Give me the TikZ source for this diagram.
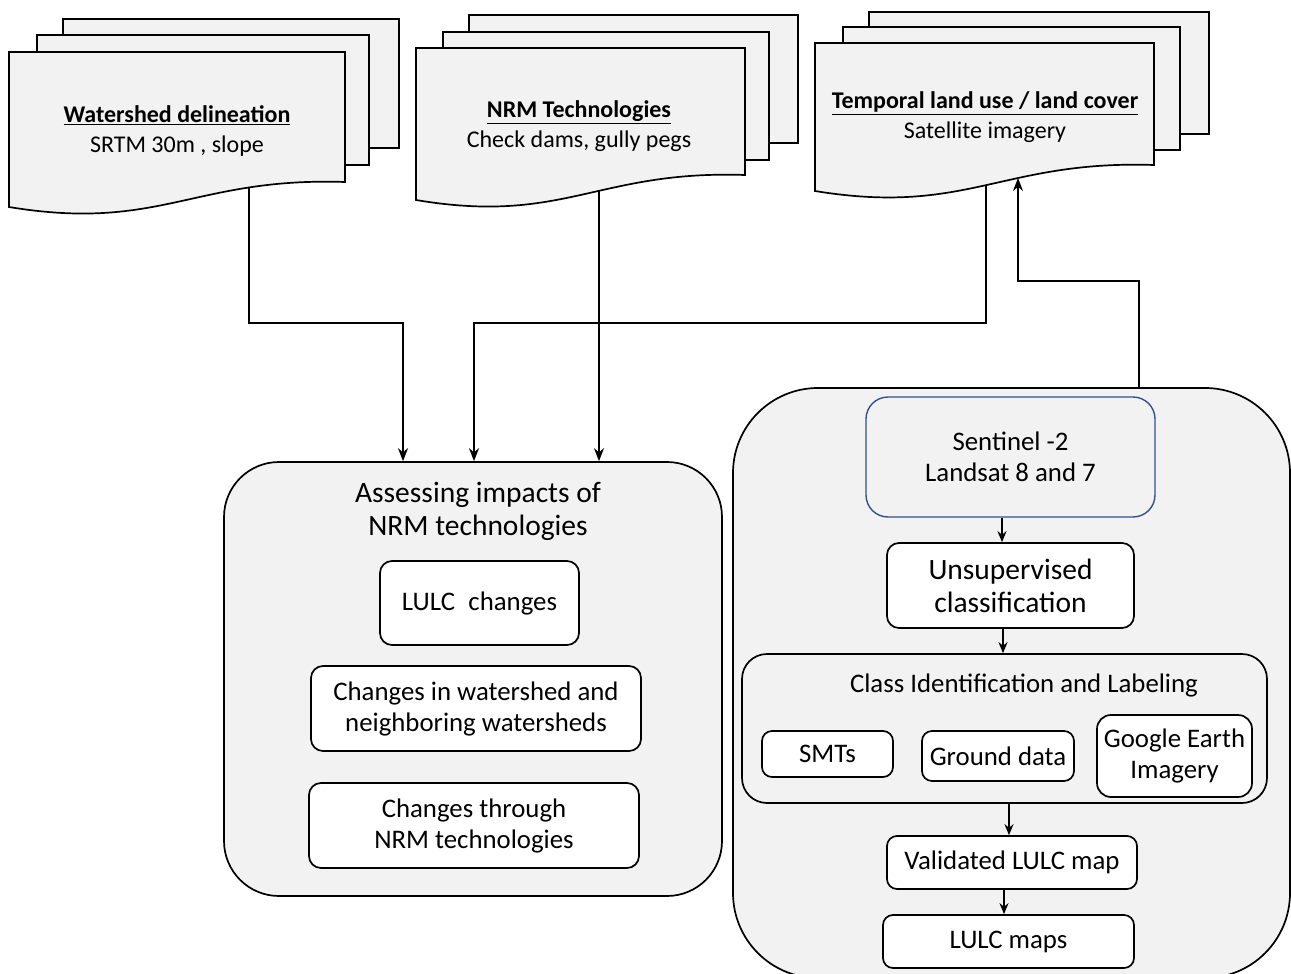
\documentclass[tikz,border=0pt]{standalone}
\usepackage{fontspec}
\setmainfont{Carlito}
\usetikzlibrary{arrows.meta,calc}
\definecolor{bgrey}{HTML}{F2F2F2}
\definecolor{sblue}{HTML}{2F528F}
\newcommand{\wavedoc}[5]{%
  \draw[sheet] (#1,#2) -- (#3,#2) -- (#3,#5) .. controls ({#1+0.55*(#3-#1)},{#5-5}) and ({#1+0.45*(#3-#1)},{#4+25}) .. (#1,#4) -- cycle;}
\begin{document}
\begin{tikzpicture}[x=1pt,y=-1pt,
  line width=1.7pt,
  arr/.style={-{Stealth[length=13pt,width=10pt]}},
  sarr/.style={-{Stealth[length=11pt,width=9pt]}},
  sheet/.style={draw,fill=bgrey,line join=miter},
  container/.style={draw,fill=bgrey,rounded corners=#1,inner sep=0pt},
  ibox/.style={draw,fill=white,rounded corners=12pt,align=center,inner sep=0pt},
  big/.style={font=\fontsize{29.5}{33}\selectfont},
  mid/.style={font=\fontsize{26.8}{31}\selectfont},
  doctxt/.style={font=\fontsize{24}{30}\selectfont,align=center},
]
\useasboundingbox (0,0) rectangle (1291,974);

% --- documents ---
\draw[sheet] (63,19) rectangle (399,148);
\draw[sheet] (37,35) rectangle (369,165);
\wavedoc{9}{52}{345}{207}{182}
\node[doctxt] (d1t) at (177,131) {\underline{\textbf{Watershed delineation}}\\SRTM 30m , slope};

\draw[sheet] (469,15) rectangle (798,143);
\draw[sheet] (443,32) rectangle (769,160);
\wavedoc{416}{48}{745}{200}{175}
\node[doctxt] (d2t) at (579,126) {\underline{\textbf{NRM Technologies}}\\Check dams, gully pegs};

\draw[sheet] (869,12) rectangle (1209,134);
\draw[sheet] (843,27) rectangle (1180,150);
\wavedoc{815}{43}{1154}{191}{165}
\node[doctxt] (d3t) at (985,117.5) {\underline{\textbf{Temporal land use / land cover}}\\Satellite imagery};

\coordinate (d1b) at (249,188);
\coordinate (d2b) at (599,191);
\coordinate (d3b) at (986,186);
\coordinate (d3in) at (1018,178);

% --- left container ---
\node[container=55pt, minimum width=498pt, minimum height=434pt] (lc) at (473,679) {};
\node[big,align=center] (lct) at (478,511) {Assessing impacts of\\NRM technologies};
\node[ibox,mid,minimum width=199pt,minimum height=84pt] (lulc) at (479.5,603) {LULC\enspace changes};
\node[ibox,mid,minimum width=330pt,minimum height=85pt] (cw) at (476,708.5) {Changes in watershed and\\neighboring watersheds};
\node[ibox,mid,minimum width=330pt,minimum height=85pt] (ct) at (474,825.5) {Changes through\\NRM technologies};

% --- right container ---
\node[container=85pt, minimum width=557pt, minimum height=590pt] (rc) at (1011.5,683) {};
\node[draw=sblue, line width=1.4pt, fill=bgrey, rounded corners=22pt, minimum width=289pt, minimum height=120pt, align=center, mid, inner sep=0pt] (sent) at (1010.5,457) {Sentinel -2\\Landsat 8 and 7};
\node[ibox,big,minimum width=247pt,minimum height=85pt] (unsup) at (1010.5,585.5) {Unsupervised\\classification};
\node[container=25pt, minimum width=525pt, minimum height=149pt] (cls) at (1004.5,728.5) {};
\node[mid] (clst) at (1024,685) {Class Identification and Labeling};
\node[ibox,mid,rounded corners=10pt,minimum width=131pt,minimum height=46pt] (smt) at (827.5,754) {SMTs};
\node[ibox,mid,rounded corners=10pt,minimum width=152pt,minimum height=50pt] (gd) at (998,756) {Ground data};
\node[ibox,mid,rounded corners=14pt,minimum width=155pt,minimum height=82pt] (ge) at (1174.5,756) {Google Earth\\Imagery};
\node[ibox,mid,rounded corners=10pt,minimum width=250pt,minimum height=53pt] (val) at (1012,862.5) {Validated LULC map};
\node[ibox,mid,rounded corners=10pt,minimum width=251pt,minimum height=53pt] (maps) at (1008.5,941.5) {LULC maps};

% --- connectors ---
\coordinate (k1) at (403,323);
\coordinate (k3) at (474,323);
\coordinate (k4) at (1139,281);
\draw[arr] (d1b) |- (k1) -- (k1 |- lc.north);
\draw[arr] (d3b) |- (k3) -- (k3 |- lc.north);
\draw[arr] (d2b) -- (d2b |- lc.north);
\draw[arr] (k4 |- rc.north) -- (k4) -| (d3in);

\coordinate (a1) at ([xshift=-8.5pt]sent.south);
\draw[sarr] (a1) -- (a1 |- unsup.north);
\coordinate (a2) at ([xshift=-7.5pt]unsup.south);
\draw[sarr] (a2) -- (a2 |- cls.north);
\coordinate (a3) at ([xshift=4.5pt]cls.south);
\draw[sarr] (a3) -- (a3 |- val.north);
\coordinate (a4) at ([xshift=-8pt]val.south);
\draw[sarr] (a4) -- (a4 |- maps.north);
\end{tikzpicture}
\end{document}
